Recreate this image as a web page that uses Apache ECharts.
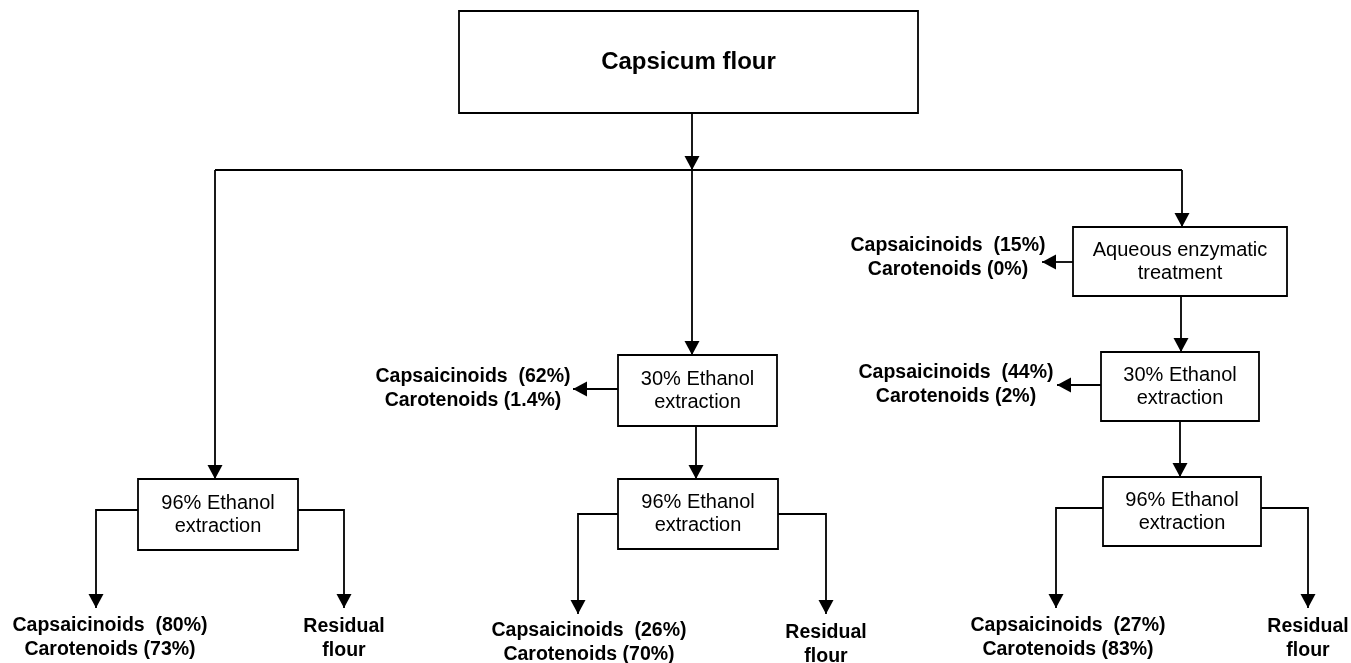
<!DOCTYPE html>
<html>
<head>
<meta charset="utf-8">
<title>Capsicum flour extraction</title>
<script src="https://cdn.jsdelivr.net/npm/echarts@6/dist/echarts.min.js"></script>
<style>
	html, body { margin: 0; padding: 0; background: #fff; }
	#chart { width: 1351px; height: 663px; }
</style>
</head>
<body>
<div id="chart"></div>
<script>
// process steps (boxes)
var stepLabels = [
	'Capsicum flour',
	'96% Ethanol\nextraction',
	'30% Ethanol\nextraction',
	'96% Ethanol\nextraction',
	'Aqueous enzymatic\ntreatment',
	'30% Ethanol\nextraction',
	'96% Ethanol\nextraction'
];
// recoveries (%) for each extract
var capsaicinoids = [80, 62, 26, 15, 44, 27];
var carotenoids = [73, 1.4, 70, 0, 2, 83];
var residueLabel = 'Residual\nflour';

// layout (diagram units = px), box: [cx, cy, w, h]
var boxLayout = [
	[688.5, 62, 459, 102],
	[218, 514.5, 160, 71],
	[697.5, 390.5, 159, 71],
	[698, 514, 160, 70],
	[1180, 261.5, 214, 69],
	[1180, 386.5, 158, 69],
	[1182, 511.5, 158, 69]
];
// extract labels: [cx, cy of first line]
var yieldLayout = [
	[110, 626],
	[473, 377],
	[589, 631],
	[948, 246],
	[956, 373],
	[1068, 626]
];
var residueLayout = [
	[344, 627],
	[826, 633],
	[1308, 627]
];
// connectors (last point carries the arrow head)
var links = [
	[[692, 113], [692, 170]],
	[[215, 170], [1182, 170]],
	[[215, 170], [215, 479]],
	[[692, 170], [692, 355]],
	[[1182, 170], [1182, 227]],
	[[138, 510], [96, 510], [96, 608]],
	[[298, 510], [344, 510], [344, 608]],
	[[618, 389], [573, 389]],
	[[696, 426], [696, 479]],
	[[618, 514], [578, 514], [578, 614]],
	[[778, 514], [826, 514], [826, 614]],
	[[1073, 262], [1042, 262]],
	[[1181, 296], [1181, 352]],
	[[1101, 385], [1057, 385]],
	[[1180, 421], [1180, 477]],
	[[1103, 508], [1056, 508], [1056, 608]],
	[[1261, 508], [1308, 508], [1308, 608]]
];
var arrowLinks = [true, false, true, true, true, true, true, true, true, true, true, true, true, true, true, true, true];

var FONT = '"Liberation Sans", Arial, Helvetica, sans-serif';
var LW = 1.8;

function yieldText(i) {
	return 'Capsaicinoids  (' + capsaicinoids[i] + '%)\nCarotenoids (' + carotenoids[i] + '%)';
}

function renderBox(params, api) {
	var c = api.coord([api.value(0), api.value(1)]);
	var s = api.size([api.value(2), api.value(3)]);
	var i = params.dataIndex;
	var first = i === 0;
	return {
		type : 'group',
		children : [ {
			type : 'rect',
			shape : { x : c[0] - s[0] / 2, y : c[1] - s[1] / 2, width : s[0], height : s[1] },
			style : { fill : '#fff', stroke : '#000', lineWidth : LW }
		}, {
			type : 'text',
			x : c[0],
			y : c[1],
			style : {
				text : stepLabels[i],
				fill : '#000',
				fontFamily : FONT,
				fontSize : first ? 24 : 20,
				fontWeight : first ? 'bold' : 'normal',
				lineHeight : 23,
				align : 'center',
				verticalAlign : 'middle'
			}
		} ]
	};
}

function renderLink(params, api) {
	var pts = links[params.dataIndex].map(function(p) { return api.coord(p); });
	var children = [ {
		type : 'polyline',
		shape : { points : pts },
		style : { fill : 'none', stroke : '#000', lineWidth : LW }
	} ];
	if (arrowLinks[params.dataIndex]) {
		var a = pts[pts.length - 2], b = pts[pts.length - 1];
		var dx = b[0] - a[0], dy = b[1] - a[1];
		var len = Math.sqrt(dx * dx + dy * dy);
		dx /= len; dy /= len;
		var L = 14, W = 7.5;
		var bx = b[0] - dx * L, by = b[1] - dy * L;
		children.push({
			type : 'polygon',
			shape : { points : [ b, [bx - dy * W, by + dx * W], [bx + dy * W, by - dx * W] ] },
			style : { fill : '#000' }
		});
	}
	return { type : 'group', children : children };
}

function renderLabel(textFn, lh) {
	return function(params, api) {
		var c = api.coord([api.value(0), api.value(1)]);
		return {
			type : 'text',
			x : c[0],
			y : c[1] - lh / 2,
			style : {
				text : textFn(params.dataIndex),
				fill : '#000',
				fontFamily : FONT,
				fontSize : 19.5,
				fontWeight : 'bold',
				lineHeight : lh,
				align : 'center',
				verticalAlign : 'top'
			}
		};
	};
}

var dom = document.getElementById('chart');
var myChart = echarts.init(dom);
var option = {
	backgroundColor : '#fff',
	animation : false,
	grid : { left : 0, right : 0, top : 0, bottom : 0 },
	xAxis : { type : 'value', min : 0, max : 1351, show : false },
	yAxis : { type : 'value', min : 0, max : 663, inverse : true, show : false },
	series : [ {
		type : 'custom',
		name : 'links',
		clip : false,
		renderItem : renderLink,
		data : links.map(function(l) { return l[0]; })
	}, {
		type : 'custom',
		name : 'steps',
		clip : false,
		renderItem : renderBox,
		data : boxLayout
	}, {
		type : 'custom',
		name : 'extracts',
		clip : false,
		renderItem : renderLabel(yieldText, 24),
		data : yieldLayout
	}, {
		type : 'custom',
		name : 'residue',
		clip : false,
		renderItem : renderLabel(function() { return residueLabel; }, 24),
		data : residueLayout
	} ]
};
myChart.setOption(option, true);
</script>
</body>
</html>
